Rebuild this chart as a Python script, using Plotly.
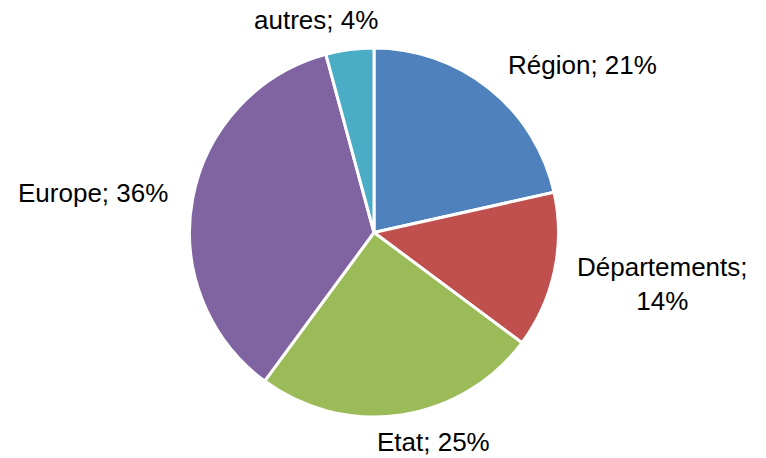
import plotly.graph_objects as go

# Data (shares; labels show rounded %)
categories = ["Région", "Départements", "Etat", "Europe", "autres"]
values = [21.5, 13.7, 24.9, 35.7, 4.2]
colors = ["#4F81BD", "#C0504D", "#9BBB59", "#8064A2", "#4BACC6"]
label_texts = ["Région; 21%", "Départements;<br>14%", "Etat; 25%", "Europe; 36%", "autres; 4%"]

W, H = 766, 458
# pie geometry in pixels
cx, cy, R = 374, 232.5, 184.5

# label centers (pixel layout)
label_pos = [(582, 65), (662, 284), (433, 442), (93, 193), (316, 20)]

fig = go.Figure(go.Pie(
    labels=categories,
    values=values,
    marker=dict(colors=colors, line=dict(color="white", width=3)),
    sort=False,
    direction="clockwise",
    rotation=0,
    textinfo="none",
    hoverinfo="label+percent",
    showlegend=False,
    domain=dict(x=[(cx - R) / W, (cx + R) / W], y=[1 - (cy + R) / H, 1 - (cy - R) / H]),
))

annotations = []
for txt, (px, py) in zip(label_texts, label_pos):
    annotations.append(dict(
        text=txt, x=px / W, y=1 - py / H, xref="paper", yref="paper",
        xanchor="center", yanchor="middle", showarrow=False, align="center",
        font=dict(family="Liberation Sans, Arial, sans-serif", size=26, color="black"),
    ))

fig.update_layout(
    width=W, height=H,
    margin=dict(l=0, r=0, t=0, b=0),
    paper_bgcolor="white", plot_bgcolor="white",
    annotations=annotations,
)

fig.write_html("out.html")
